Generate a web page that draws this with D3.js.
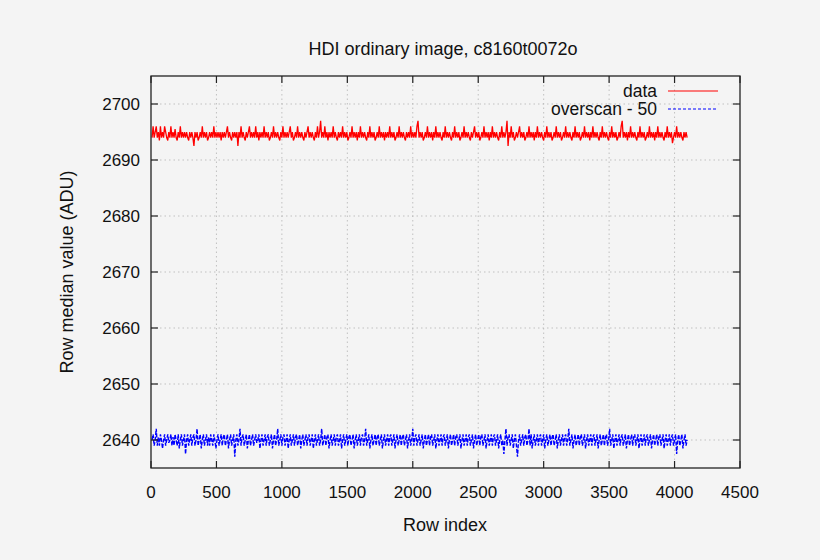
<!DOCTYPE html>
<html lang="en">
	<head>
		<meta charset="utf-8">
		<title>HDI ordinary image</title>
		<script src="https://d3js.org/d3.v7.min.js"></script>
		<style>
			body { margin: 0; background: #f4f4f4; }
			svg text { font-family: "Liberation Sans", Arial, sans-serif; fill: #111; }
		</style>
	</head>
	<body>
		<script>

			// row step between the values
			var rowStep = 8;

			var xTicks = [0, 500, 1000, 1500, 2000, 2500, 3000, 3500, 4000, 4500];
			var yTicks = [2640, 2650, 2660, 2670, 2680, 2690, 2700];

			var seriesNames = ["data", "overscan - 50"];

			// row medians of the image (ADU)
			var dataValues = [
				2694,2696,2694,2695,2696,2694,2695,2693.5,2696,2694,2695,2694,2696,2695,2694,2693.5,2695,2694,2696,2694,2695,2694,2695.5,2694,2693.5,2695,2694,2696,2694,2695,2694,2695,
				2694,2695,2694,2693.5,2695,2694,2695,2694,2692.5,2695,2694,2695,2693.5,2694,2695,2694,2696,2694,2695,2694,2695,2693.5,2694,2695,2694,2695,2694,2696,2694,2695,2694,2695,
				2694,2695,2693.5,2695,2694,2695,2694,2695,2696,2694,2695,2694,2693.5,2695,2694,2695,2694,2695,2692.5,2695,2694,2696,2694,2695,2694,2693.5,2695,2694,2695,2696,2694,2695,
				2694,2695,2694,2696,2694,2695,2693.5,2695,2694,2695,2694,2696,2694,2695,2694,2695,2693.5,2694,2695,2694,2696,2694,2695,2694,2695,2694,2693.5,2695,2694,2696,2694,2695,
				2694,2695,2694,2695,2696,2694,2695,2693.5,2694,2695,2694,2696,2694,2695,2694,2695,2694,2693.5,2695,2694,2695,2696,2694,2695,2694,2695,2694,2693.5,2695,2694,2696,2694,
				2695,2697,2694,2695,2694,2696,2694,2695,2693.5,2695,2694,2695,2694,2696,2694,2695,2694,2693.5,2695,2694,2695,2694,2696,2694,2695,2694,2695,2693.5,2694,2695,2694,2696,
				2694,2695,2694,2695,2693.5,2695,2694,2696,2694,2695,2694,2695,2694,2693.5,2695,2694,2696,2694,2695,2694,2695,2693.5,2694,2695,2694,2696,2694,2695,2694,2695,2693.5,2695,
				2694,2695,2694,2696,2694,2695,2694,2695,2693.5,2694,2695,2694,2696,2694,2695,2694,2695,2694,2693.5,2695,2694,2695,2694,2696,2694,2695,2694,2695,2694,2696,2697,2694,
				2695,2694,2695,2693.5,2694,2695,2694,2696,2694,2695,2694,2695,2693.5,2695,2694,2696,2694,2695,2694,2695,2694,2693.5,2695,2694,2696,2694,2695,2694,2695,2694,2693.5,2695,
				2694,2696,2694,2695,2694,2695,2693.5,2694,2695,2694,2696,2694,2695,2694,2695,2694,2693.5,2695,2694,2695,2696,2694,2695,2694,2695,2693.5,2694,2695,2694,2696,2694,2695,
				2694,2695,2693.5,2695,2694,2696,2694,2695,2694,2695,2694,2693.5,2695,2694,2696,2694,2695,2694,2695,2697,2692.5,2695,2694,2696,2694,2695,2693.5,2694,2695,2694,2695,2696,
				2694,2695,2694,2695,2693.5,2694,2695,2694,2696,2694,2695,2694,2695,2693.5,2695,2694,2696,2694,2695,2694,2695,2694,2693.5,2695,2694,2696,2694,2695,2694,2695,2693.5,2694,
				2695,2694,2696,2694,2695,2694,2695,2693.5,2694,2695,2694,2696,2694,2695,2694,2695,2694,2693.5,2695,2694,2696,2694,2695,2694,2695,2693.5,2694,2695,2694,2696,2694,2695,
				2694,2695,2693.5,2695,2694,2696,2694,2695,2694,2695,2694,2693.5,2695,2694,2696,2694,2695,2694,2695,2694,2693.5,2695,2694,2696,2694,2695,2694,2695,2693.5,2694,2695,2694,
				2696,2697,2694,2695,2694,2695,2693.5,2695,2694,2696,2694,2695,2694,2695,2694,2693.5,2695,2694,2696,2694,2695,2694,2695,2693.5,2694,2695,2694,2696,2694,2695,2694,2695,
				2693.5,2695,2694,2696,2694,2695,2694,2695,2694,2693.5,2695,2694,2696,2694,2695,2694,2695,2693,2694,2695,2694,2696,2694,2695,2694,2695,2694,2693.5,2695,2694,2695,2694
			];

			// overscan medians minus 50 (ADU)
			var overscanValues = [
				2640,2641,2639,2640,2642,2639,2640.5,2639,2641,2640,2638.5,2640,2641,2639,2640,2641,2639.5,2640,2641,2639,2640.5,2639,2641,2640,2639,2641,2638.5,2640,2641,2639,2640,2641,
				2637.5,2640,2641,2639,2640,2641,2639,2640.5,2641,2639,2640,2642,2639,2640,2641,2638.5,2640,2641,2639,2640,2641,2639,2640.5,2639,2641,2640,2639,2641,2640,2638.5,2640,2641,
				2639,2640,2641,2639,2640.5,2641,2639,2640,2641,2638.5,2640,2641,2639,2640,2641,2637,2640,2641,2639,2640,2642,2639,2640.5,2641,2639,2640,2641,2638.5,2640,2641,2639,2640,
				2641,2639,2640,2641,2639.5,2640,2641,2638.5,2640,2641,2639,2640,2641,2639,2640.5,2641,2639,2640,2641,2638.5,2640,2641,2639,2640,2642,2639,2640,2641,2639,2640.5,2641,2639,
				2640,2641,2638.5,2640,2641,2639,2640,2641,2639,2640.5,2641,2639,2640,2641,2638.5,2640,2641,2639,2640,2641,2639,2640.5,2641,2639,2640,2641,2638.5,2640,2641,2639,2640,2641,
				2639,2640,2642,2639,2640,2641,2639,2640.5,2641,2638.5,2640,2641,2639,2640,2641,2639,2640.5,2641,2639,2640,2641,2638.5,2640,2641,2639,2640,2641,2639,2640.5,2641,2639,2640,
				2641,2638.5,2640,2641,2639,2640,2641,2639,2640.5,2641,2639,2640,2642,2639,2640,2641,2638.5,2640,2641,2639,2640,2641,2639,2640.5,2641,2639,2640,2641,2638.5,2640,2641,2639,
				2640,2641,2639,2640.5,2641,2639,2640,2641,2638.5,2640,2641,2639,2640,2641,2639,2640.5,2641,2639,2640,2641,2638.5,2640,2641,2639,2640,2642,2639,2640.5,2641,2639,2640,2641,
				2639,2640,2641,2638.5,2640,2641,2639,2640,2641,2639,2640.5,2641,2639,2640,2641,2638.5,2640,2641,2639,2640,2641,2639,2640.5,2641,2639,2640,2641,2638.5,2640,2641,2639,2640,
				2641,2639,2640.5,2641,2639,2640,2641,2638.5,2640,2641,2639,2640,2641,2639,2640.5,2641,2639,2640,2641,2638.5,2640,2641,2639,2640,2641,2639,2640.5,2641,2639,2640,2641,2638.5,
				2640,2641,2639,2640,2641,2639,2640.5,2641,2639,2640,2641,2638.5,2640,2641,2639,2640,2637.5,2640,2642,2639,2640.5,2641,2639,2640,2641,2638.5,2640,2641,2639,2637,2640,2641,
				2639,2640,2641,2639,2640.5,2641,2639,2640,2642,2639,2641,2638.5,2640,2641,2639,2640,2641,2639,2640.5,2641,2639,2640,2641,2638.5,2640,2641,2639,2640,2641,2639,2640.5,2641,
				2639,2640,2641,2638.5,2640,2641,2639,2640,2641,2639,2640.5,2641,2639,2640,2642,2639,2640,2641,2638.5,2640,2641,2639,2640,2641,2639,2640.5,2641,2639,2640,2641,2638.5,2640,
				2641,2639,2640,2641,2639,2640.5,2641,2639,2640,2641,2638.5,2640,2641,2639,2640,2641,2639,2640.5,2641,2639,2640,2642,2639,2640,2641,2638.5,2640,2641,2639,2640,2641,2639,
				2640.5,2641,2639,2640,2641,2638.5,2640,2641,2639,2640,2641,2639,2640.5,2641,2639,2640,2641,2638.5,2640,2641,2639,2640,2641,2639,2640.5,2641,2639,2640,2641,2638.5,2640,2641,
				2639,2640,2641,2639,2640.5,2641,2639,2640,2641,2638.5,2640,2641,2639,2640,2641,2639,2640.5,2641,2639,2640,2641,2637.5,2640,2641,2639,2640,2641,2638.5,2640,2641,2639,2640
			];

			//Width and height
			var w = 820;
			var h = 560;
			var plotLeft = 151, plotRight = 740, plotTop = 76, plotBottom = 468;

			var x = d3.scaleLinear().domain([0, 4500]).range([plotLeft, plotRight]);
			var y = d3.scaleLinear().domain([2635, 2705]).range([plotBottom, plotTop]);

			var svg = d3.select("body")
						.append("svg")
						.attr("width", w)
						.attr("height", h);

			svg.append("rect")
				.attr("width", w)
				.attr("height", h)
				.attr("fill", "#f4f4f4");

			//Grid
			var grid = svg.append("g")
				.attr("stroke", "#b4b4b4")
				.attr("stroke-width", 0.8)
				.attr("stroke-dasharray", "1.5,3");

			grid.selectAll(".gx")
				.data(xTicks.slice(1, -1))
				.enter()
				.append("line")
				.attr("x1", function(d) { return x(d); })
				.attr("x2", function(d) { return x(d); })
				.attr("y1", plotTop)
				.attr("y2", plotBottom);

			grid.selectAll(".gy")
				.data(yTicks)
				.enter()
				.append("line")
				.attr("x1", plotLeft)
				.attr("x2", plotRight)
				.attr("y1", function(d) { return y(d); })
				.attr("y2", function(d) { return y(d); });

			//Series
			var line = d3.line()
				.x(function(d, i) { return x((i + 1) * rowStep); })
				.y(function(d) { return y(d); });

			svg.append("path")
				.datum(dataValues)
				.attr("d", line)
				.attr("fill", "none")
				.attr("stroke", "#ff0000")
				.attr("stroke-width", 1.3);

			svg.append("path")
				.datum(overscanValues)
				.attr("d", line)
				.attr("fill", "none")
				.attr("stroke", "#0000ff")
				.attr("stroke-width", 1.4)
				.attr("stroke-dasharray", "4,1.5");

			//Axes with mirrored inward ticks
			var tickLen = 7;
			var axisG = svg.append("g")
				.attr("stroke", "#222")
				.attr("stroke-width", 1.2);

			xTicks.forEach(function(t) {
				axisG.append("line").attr("x1", x(t)).attr("x2", x(t)).attr("y1", plotBottom).attr("y2", plotBottom - tickLen);
				axisG.append("line").attr("x1", x(t)).attr("x2", x(t)).attr("y1", plotTop).attr("y2", plotTop + tickLen);
			});
			yTicks.forEach(function(t) {
				axisG.append("line").attr("x1", plotLeft).attr("x2", plotLeft + tickLen).attr("y1", y(t)).attr("y2", y(t));
				axisG.append("line").attr("x1", plotRight).attr("x2", plotRight - tickLen).attr("y1", y(t)).attr("y2", y(t));
			});

			svg.append("rect")
				.attr("x", plotLeft)
				.attr("y", plotTop)
				.attr("width", plotRight - plotLeft)
				.attr("height", plotBottom - plotTop)
				.attr("fill", "none")
				.attr("stroke", "#222")
				.attr("stroke-width", 1.3);

			//Tick labels
			svg.selectAll(".xl")
				.data(xTicks)
				.enter()
				.append("text")
				.attr("x", function(d) { return x(d); })
				.attr("y", 498)
				.attr("text-anchor", "middle")
				.style("font-size", "17px")
				.text(function(d) { return d; });

			svg.selectAll(".yl")
				.data(yTicks)
				.enter()
				.append("text")
				.attr("x", plotLeft - 11)
				.attr("y", function(d) { return y(d) + 6; })
				.attr("text-anchor", "end")
				.style("font-size", "17px")
				.text(function(d) { return d; });

			//Titles
			svg.append("text")
				.attr("x", 443)
				.attr("y", 55)
				.attr("text-anchor", "middle")
				.style("font-size", "18px")
				.text("HDI ordinary image, c8160t0072o");

			svg.append("text")
				.attr("x", 445)
				.attr("y", 531)
				.attr("text-anchor", "middle")
				.style("font-size", "18px")
				.text("Row index");

			svg.append("text")
				.attr("transform", "translate(73," + ((plotTop + plotBottom) / 2) + ") rotate(-90)")
				.attr("text-anchor", "middle")
				.style("font-size", "18px")
				.text("Row median value (ADU)");

			//Legend
			var legendStyles = [
				{ color: "#ff0000", dash: null },
				{ color: "#0000ff", dash: "3,2" }
			];
			var legend = svg.append("g");
			seriesNames.forEach(function(name, i) {
				var ly = 91 + i * 18;
				legend.append("text")
					.attr("x", 657)
					.attr("y", ly + 6)
					.attr("text-anchor", "end")
					.style("font-size", "17.5px")
					.text(name);
				legend.append("line")
					.attr("x1", 668)
					.attr("x2", 718)
					.attr("y1", ly)
					.attr("y2", ly)
					.attr("stroke", legendStyles[i].color)
					.attr("stroke-width", 1)
					.attr("stroke-dasharray", legendStyles[i].dash);
			});

		</script>
	</body>
</html>
